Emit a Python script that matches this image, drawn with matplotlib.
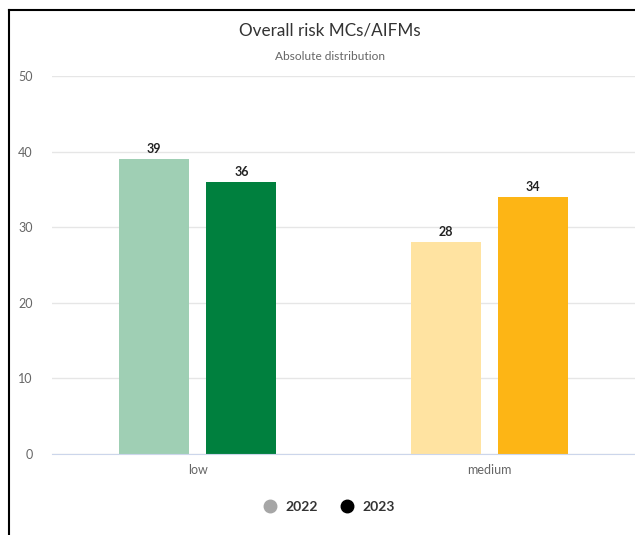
import numpy as np
import matplotlib
matplotlib.use("Agg")
import matplotlib.pyplot as plt
from matplotlib.lines import Line2D

categories = ["low", "medium"]
years = ["2022", "2023"]
values_2022 = [39, 28]
values_2023 = [36, 34]
colors_2022 = ["#9fcfb4", "#ffe3a1"]
colors_2023 = ["#00803e", "#fdb515"]
yticks = [0, 10, 20, 30, 40, 50]

plt.rcParams["font.family"] = ["Lato", "DejaVu Sans"]

fig = plt.figure(figsize=(6.35, 5.35), dpi=100)
W, H = 635, 535
ax = fig.add_axes([52 / W, 1 - 454 / H, (635 - 52) / W, (454 - 76) / H])

x = np.arange(len(categories))
bw = 0.24
off = 0.15
ax.bar(x - off, values_2022, bw, color=colors_2022, zorder=3)
ax.bar(x + off, values_2023, bw, color=colors_2023, zorder=3)

for xi, v in zip(x - off, values_2022):
    ax.annotate(str(v), (xi, v), xytext=(0, 3), textcoords="offset points",
                ha="center", va="bottom", fontsize=9, fontweight="bold", color="#222222")
for xi, v in zip(x + off, values_2023):
    ax.annotate(str(v), (xi, v), xytext=(0, 3), textcoords="offset points",
                ha="center", va="bottom", fontsize=9, fontweight="bold", color="#222222")

ax.set_xlim(-0.5, 1.5)
ax.set_ylim(0, 50)
ax.set_yticks(yticks)
ax.set_xticks(x)
ax.set_xticklabels(categories)
ax.grid(axis="y", color="#e6e6e6", linewidth=1, zorder=0)
for s in ["top", "right", "left"]:
    ax.spines[s].set_visible(False)
ax.spines["bottom"].set_color("#ccd6eb")
ax.spines["bottom"].set_zorder(4)
ax.tick_params(axis="both", length=0, labelsize=9, labelcolor="#666666")
ax.tick_params(axis="y", pad=14)
ax.tick_params(axis="x", pad=7)

fig.text(330 / W, 1 - 30 / H, "Overall risk MCs/AIFMs", ha="center", va="center",
         fontsize=12.3, color="#333333")
fig.text(330 / W, 1 - 57 / H, "Absolute distribution", ha="center", va="center",
         fontsize=8.6, color="#666666")

# legend: grey/black dots with the year labels
handles = [Line2D([], [], marker="o", linestyle="none", markersize=9,
                  markerfacecolor=c, markeredgecolor=c) for c in ["#a6a6a6", "#000000"]]
leg = fig.legend(handles, years, loc="center", bbox_to_anchor=(327 / W, 1 - 507 / H),
                 ncol=2, frameon=False, handletextpad=0.4, columnspacing=1.3,
                 handlelength=1.5, prop={"size": 10, "weight": "bold"})
for t in leg.get_texts():
    t.set_color("#333333")

# page border
fig.add_artist(Line2D([9 / W, 1], [1 - 10 / H, 1 - 10 / H], color="black", linewidth=1.5))
fig.add_artist(Line2D([9 / W, 9 / W], [0, 1 - 10 / H], color="black", linewidth=1.5))

fig.savefig("out.png", dpi=100)
